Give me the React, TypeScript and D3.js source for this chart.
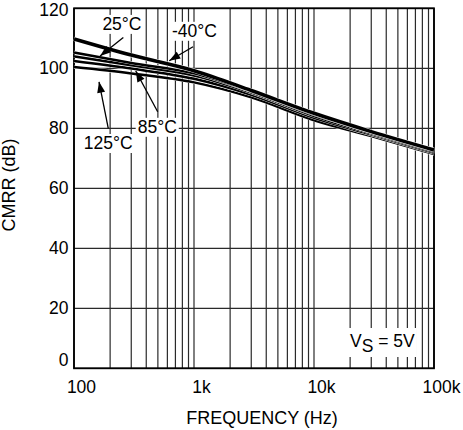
import React from "react";
import * as d3 from "d3";

// CMRR vs frequency, Vs = 5V
const freqs = [100, 300, 1000, 3000, 10000, 30000, 100000];
const cmrrMinus40 = [109.8, 104.4, 99.2, 92.6, 85.0, 78.9, 72.8];
const cmrr25 = [105.3, 101.8, 98.3, 92.3, 84.6, 78.7, 72.5];
const cmrrMid = [104.0, 101.0, 97.6, 91.9, 84.1, 78.3, 72.2];
const cmrr85 = [102.4, 99.9, 96.5, 91.2, 83.5, 77.9, 71.8];
const cmrr125 = [100.4, 98.3, 95.3, 90.3, 82.7, 77.4, 71.4];

const xTicks = [100, 1000, 10000, 100000];
const xTickLabels = ["100", "1k", "10k", "100k"];
const yTicks = [0, 20, 40, 60, 80, 100, 120];

// annotation: label, text anchor point, arrow tail, arrow tip (freq, dB)
const annLabels = ["25°C", "-40°C", "85°C", "125°C"];
const annText = [[251, 112.8], [1009, 110.5], [494, 78.5], [193, 73.1]];
const annTail = [[257.6, 110.3], [981, 107.2], [498, 85.5], [193, 80]];
const annTip = [[165, 104.1], [622, 102.5], [327, 99.1], [161.6, 95.5]];

const W = 463;
const H = 430;
const FONT = "'Liberation Sans', Arial, Helvetica, sans-serif";
const FS = 17.5;

const charW = (s: string) =>
  s.split("").reduce((a, ch) => {
    if (/[0-9]/.test(ch)) return a + 0.556;
    if (ch === "°") return a + 0.4;
    if (ch === "C") return a + 0.722;
    if (ch === "-") return a + 0.333;
    return a + 0.6;
  }, 0) * FS;

export default function App() {
  const x = d3.scaleLog().domain([100, 100000]).range([74, 434]);
  const y = d3.scaleLinear().domain([0, 120]).range([368.3, 8.3]);

  const minor: number[] = [];
  [100, 1000, 10000].forEach((d) => {
    for (let k = 2; k <= 9; k++) minor.push(d * k);
  });

  const line = d3
    .line<[number, number]>()
    .x((d) => x(d[0]))
    .y((d) => y(d[1]))
    .curve(d3.curveMonotoneX);

  // bottom to top drawing order, white halo gives the gaps between curves
  const series = [
    { vals: cmrr125, w: 2.5 },
    { vals: cmrr85, w: 2.5 },
    { vals: cmrrMid, w: 2.5 },
    { vals: cmrr25, w: 2.5 },
    { vals: cmrrMinus40, w: 3.6 },
  ];

  const arrowHead = (tx: number, ty: number, fx: number, fy: number) => {
    const ang = Math.atan2(ty - fy, tx - fx);
    const len = 11;
    const half = 4;
    const bx = tx - len * Math.cos(ang);
    const by = ty - len * Math.sin(ang);
    const px = -Math.sin(ang) * half;
    const py = Math.cos(ang) * half;
    return `M${tx},${ty}L${bx + px},${by + py}L${bx - px},${by - py}Z`;
  };

  return (
    <svg
      width={W}
      height={H}
      style={{ position: "absolute", left: 0, top: 0, background: "#fff" }}
      fontFamily={FONT}
    >
      <rect width={W} height={H} fill="#fff" />

      {/* grid */}
      <g stroke="#2a2a2a" strokeWidth={1.2}>
        {minor.concat(xTicks).map((f, i) => (
          <line key={"v" + i} x1={x(f)} x2={x(f)} y1={y(0)} y2={y(120)} />
        ))}
        {yTicks.map((v, i) => (
          <line key={"h" + i} x1={x(100)} x2={x(100000)} y1={y(v)} y2={y(v)} />
        ))}
      </g>

      {/* label boxes */}
      <rect x={349} y={328} width={67} height={29} fill="#fff" />
      {annLabels.map((t, i) => {
        const w = charW(t);
        return (
          <rect
            key={"b" + i}
            x={x(annText[i][0]) - w / 2 - 2}
            y={y(annText[i][1]) - 15}
            width={w + 4}
            height={19}
            fill="#fff"
          />
        );
      })}

      {/* frame */}
      <rect
        x={x(100)}
        y={y(120)}
        width={x(100000) - x(100)}
        height={y(0) - y(120)}
        fill="none"
        stroke="#000"
        strokeWidth={1.8}
      />

      {/* curves */}
      {series.map((s, i) => {
        const pts = freqs.map((f, j) => [f, s.vals[j]] as [number, number]);
        const d = line(pts) ?? "";
        return (
          <g key={"s" + i} fill="none" strokeLinecap="butt">
            <path d={d} stroke="#fff" strokeWidth={s.w + 0.8} />
            <path d={d} stroke="#000" strokeWidth={s.w} />
          </g>
        );
      })}

      {/* annotations */}
      {annLabels.map((t, i) => {
        const tx = x(annTip[i][0]);
        const ty = y(annTip[i][1]);
        const fx = x(annTail[i][0]);
        const fy = y(annTail[i][1]);
        return (
          <g key={"a" + i}>
            <line x1={fx} y1={fy} x2={tx} y2={ty} stroke="#000" strokeWidth={1.3} />
            <path d={arrowHead(tx, ty, fx, fy)} fill="#000" />
            <text
              x={x(annText[i][0])}
              y={y(annText[i][1])}
              textAnchor="middle"
              fontSize={FS}
              fill="#000"
            >
              {t}
            </text>
          </g>
        );
      })}

      <text x={350} y={347} fontSize={FS} fill="#000">
        V<tspan dy={5}>S</tspan>
        <tspan dy={-5}> = 5V</tspan>
      </text>

      {/* y tick labels */}
      {yTicks.map((v, i) => (
        <text
          key={"yl" + i}
          x={68.5}
          y={y(v) + (v === 0 ? -2 : v === 120 ? 8 : 5.5)}
          textAnchor="end"
          fontSize={FS}
          fill="#000"
        >
          {v}
        </text>
      ))}

      {/* x tick labels */}
      {xTicks.map((f, i) => (
        <text
          key={"xl" + i}
          x={x(f) + 7.5}
          y={393}
          textAnchor="middle"
          fontSize={FS}
          fill="#000"
        >
          {xTickLabels[i]}
        </text>
      ))}

      <text x={262} y={424} textAnchor="middle" fontSize={18} fill="#000">
        FREQUENCY (Hz)
      </text>
      <text
        transform="translate(15,185) rotate(-90)"
        textAnchor="middle"
        fontSize={18}
        fill="#000"
      >
        CMRR (dB)
      </text>
    </svg>
  );
}
